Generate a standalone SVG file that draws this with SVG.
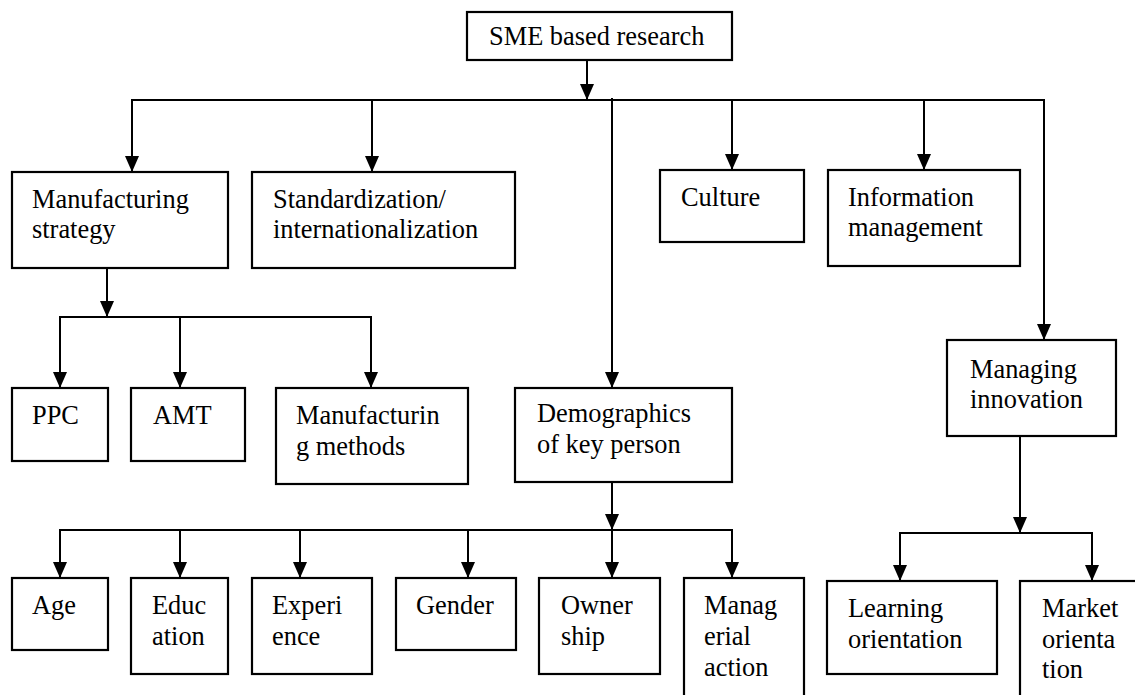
<svg xmlns="http://www.w3.org/2000/svg" width="1135" height="695" viewBox="0 0 1135 695" font-family="'Liberation Serif', 'Times New Roman', Times, serif">
  <defs>
    <marker id="arrow" viewBox="0 0 16 14" refX="16" refY="7" markerWidth="16" markerHeight="14" markerUnits="userSpaceOnUse" orient="auto">
      <path d="M0,0 L16,7 L0,14 z" fill="#000"/>
    </marker>
    <style>
      .box { fill: #fff; stroke: #000; stroke-width: 2.2; }
      text { font-family: 'Liberation Serif', 'Times New Roman', Times, serif; font-size: 26.4px; fill: #000; }
      .wire { fill: none; stroke: #000; stroke-width: 2; stroke-linecap: square; }
      .arr { fill: none; stroke: #000; stroke-width: 2; marker-end: url(#arrow); }
    </style>
  </defs>

  <rect width="1135" height="695" fill="#fff"/>

  <!-- connectors -->
  <g id="connectors">
    <!-- root to first level -->
    <path class="arr" d="M587,60 V100"/>
    <path class="wire" d="M132,100 H1044"/>
    <path class="arr" d="M132,100 V172"/>
    <path class="arr" d="M372,100 V172"/>
    <path class="arr" d="M612,98 V388"/>
    <path class="arr" d="M732,100 V170"/>
    <path class="arr" d="M924,100 V170"/>
    <path class="arr" d="M1044,100 V340"/>
    <!-- manufacturing strategy branch -->
    <path class="arr" d="M107,268 V317"/>
    <path class="wire" d="M60,317 H371"/>
    <path class="arr" d="M60,317 V388"/>
    <path class="arr" d="M180,317 V388"/>
    <path class="arr" d="M371,317 V388"/>
    <!-- demographics branch -->
    <path class="arr" d="M612,482 V530"/>
    <path class="wire" d="M60,530 H732"/>
    <path class="arr" d="M60,530 V578"/>
    <path class="arr" d="M180,530 V578"/>
    <path class="arr" d="M300,530 V578"/>
    <path class="arr" d="M468,530 V578"/>
    <path class="arr" d="M612,530 V578"/>
    <path class="arr" d="M732,530 V578"/>
    <!-- managing innovation branch -->
    <path class="arr" d="M1020,436 V533"/>
    <path class="wire" d="M900,533 H1092"/>
    <path class="arr" d="M900,533 V581"/>
    <path class="arr" d="M1092,533 V581"/>
  </g>

  <!-- nodes -->
  <g id="sme-research">
    <rect class="box" x="467" y="12" width="265" height="48"/>
    <text x="489" y="45">SME based research</text>
  </g>
  <g id="manufacturing-strategy">
    <rect class="box" x="12" y="172" width="216" height="96"/>
    <text x="32" y="208">Manufacturing</text>
    <text x="32" y="238">strategy</text>
  </g>
  <g id="standardization">
    <rect class="box" x="252" y="172" width="263" height="96"/>
    <text x="273" y="208">Standardization/</text>
    <text x="273" y="238">internationalization</text>
  </g>
  <g id="culture">
    <rect class="box" x="660" y="170" width="144" height="72"/>
    <text x="681" y="206">Culture</text>
  </g>
  <g id="information-management">
    <rect class="box" x="828" y="170" width="192" height="96"/>
    <text x="848" y="206">Information</text>
    <text x="848" y="236">management</text>
  </g>
  <g id="managing-innovation">
    <rect class="box" x="947" y="340" width="169" height="96"/>
    <text x="970" y="378">Managing</text>
    <text x="970" y="408">innovation</text>
  </g>
  <g id="ppc">
    <rect class="box" x="12" y="388" width="96" height="73"/>
    <text x="32" y="424">PPC</text>
  </g>
  <g id="amt">
    <rect class="box" x="131" y="388" width="114" height="73"/>
    <text x="153" y="424">AMT</text>
  </g>
  <g id="manufacturing-methods">
    <rect class="box" x="276" y="388" width="192" height="96"/>
    <text x="296" y="424">Manufacturin</text>
    <text x="296" y="455">g methods</text>
  </g>
  <g id="demographics">
    <rect class="box" x="515" y="388" width="217" height="94"/>
    <text x="537" y="422">Demographics</text>
    <text x="537" y="453">of key person</text>
  </g>
  <g id="age">
    <rect class="box" x="12" y="578" width="96" height="72"/>
    <text x="32" y="614">Age</text>
  </g>
  <g id="education">
    <rect class="box" x="131" y="578" width="97" height="96"/>
    <text x="152" y="614">Educ</text>
    <text x="152" y="645">ation</text>
  </g>
  <g id="experience">
    <rect class="box" x="252" y="578" width="120" height="96"/>
    <text x="272" y="614">Experi</text>
    <text x="272" y="645">ence</text>
  </g>
  <g id="gender">
    <rect class="box" x="396" y="578" width="120" height="72"/>
    <text x="416" y="614">Gender</text>
  </g>
  <g id="ownership">
    <rect class="box" x="539" y="578" width="121" height="96"/>
    <text x="561" y="614">Owner</text>
    <text x="561" y="645">ship</text>
  </g>
  <g id="managerial-action">
    <rect class="box" x="684" y="578" width="120" height="130"/>
    <text x="704" y="614">Manag</text>
    <text x="704" y="645">erial</text>
    <text x="704" y="676">action</text>
  </g>
  <g id="learning-orientation">
    <rect class="box" x="827" y="581" width="170" height="93"/>
    <text x="848" y="617">Learning</text>
    <text x="848" y="648">orientation</text>
  </g>
  <g id="market-orientation">
    <rect class="box" x="1020" y="581" width="130" height="130"/>
    <text x="1042" y="617">Market</text>
    <text x="1042" y="648">orienta</text>
    <text x="1042" y="678">tion</text>
  </g>
</svg>
